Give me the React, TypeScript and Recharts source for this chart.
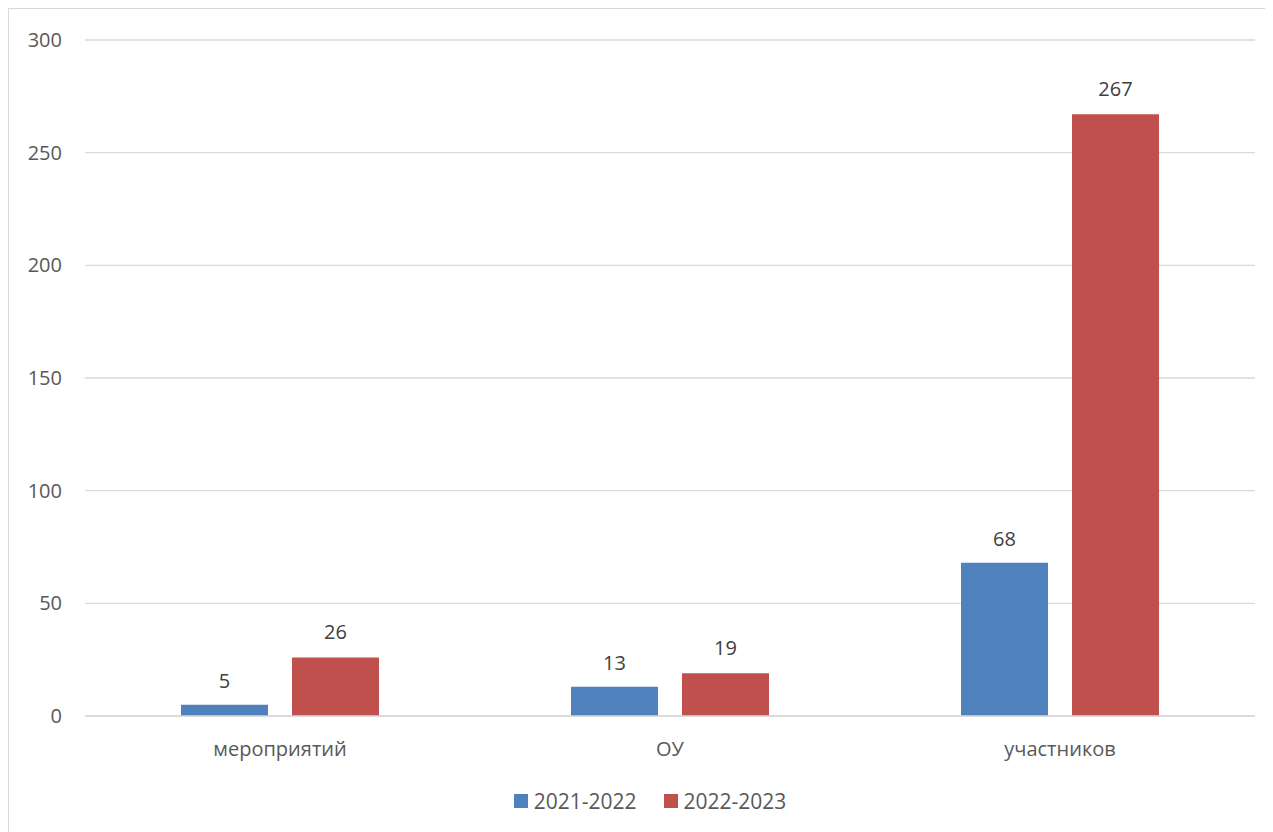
import { BarChart, Bar, XAxis, YAxis, CartesianGrid, Legend, LabelList } from 'recharts';

const categories = ['мероприятий', 'ОУ', 'участников'];
const series2122 = [5, 13, 68];
const series2223 = [26, 19, 267];
const yTicks = [0, 50, 100, 150, 200, 250, 300];

const BLUE = '#4F81BD';
const RED = '#C0504D';
const FONT = "'Open Sans', 'Noto Sans', sans-serif";

const data = categories.map((name, i) => ({
  name,
  a: series2122[i],
  b: series2223[i],
}));

function LegendContent() {
  const items = [
    { label: '2021-2022', color: BLUE },
    { label: '2022-2023', color: RED },
  ];
  return (
    <div
      style={{
        display: 'flex',
        justifyContent: 'center',
        alignItems: 'center',
        height: 24,
        paddingLeft: 36,
        fontFamily: FONT,
        fontSize: 21,
        color: '#595959',
      }}
    >
      {items.map((it, i) => (
        <div key={it.label} style={{ display: 'flex', alignItems: 'center', marginLeft: i ? 27 : 0 }}>
          <span style={{ width: 14, height: 14, background: it.color, marginRight: 6, display: 'inline-block' }} />
          <span style={{ lineHeight: '24px' }}>{it.label}</span>
        </div>
      ))}
    </div>
  );
}

export default function App() {
  return (
    <div
      style={{
        width: 1264,
        height: 823,
        borderTop: '1px solid #d9d9d9',
        borderLeft: '1px solid #d9d9d9',
        background: '#fff',
        overflow: 'hidden',
      }}
    >
      <BarChart
        width={1264}
        height={823}
        data={data}
        margin={{ top: 31, right: 18, left: 0, bottom: 0 }}
        barSize={87}
        barGap={24}
        style={{ fontFamily: FONT }}
      >
        <CartesianGrid vertical={false} stroke="#d9d9d9" strokeWidth={1.3} />
        <XAxis
          dataKey="name"
          height={92}
          axisLine={{ stroke: '#d9d9d9', strokeWidth: 1.3 }}
          tickLine={false}
          tickSize={0}
          tickMargin={26}
          tick={{ fill: '#595959', fontSize: 20, fontFamily: FONT }}
        />
        <YAxis
          width={76}
          domain={[0, 300]}
          ticks={yTicks}
          axisLine={false}
          tickLine={false}
          tickSize={0}
          tickMargin={23}
          tick={{ fill: '#595959', fontSize: 20, fontFamily: FONT }}
        />
        <Legend
          verticalAlign="bottom"
          height={24}
          content={() => <LegendContent />}
          wrapperStyle={{ top: 780, bottom: 'auto' }}
        />
        <Bar dataKey="a" name="2021-2022" fill={BLUE} isAnimationActive={false}>
          <LabelList dataKey="a" position="top" offset={17} fill="#404040" fontSize={20} fontFamily={FONT} />
        </Bar>
        <Bar dataKey="b" name="2022-2023" fill={RED} isAnimationActive={false}>
          <LabelList dataKey="b" position="top" offset={18} fill="#404040" fontSize={20} fontFamily={FONT} />
        </Bar>
      </BarChart>
    </div>
  );
}
